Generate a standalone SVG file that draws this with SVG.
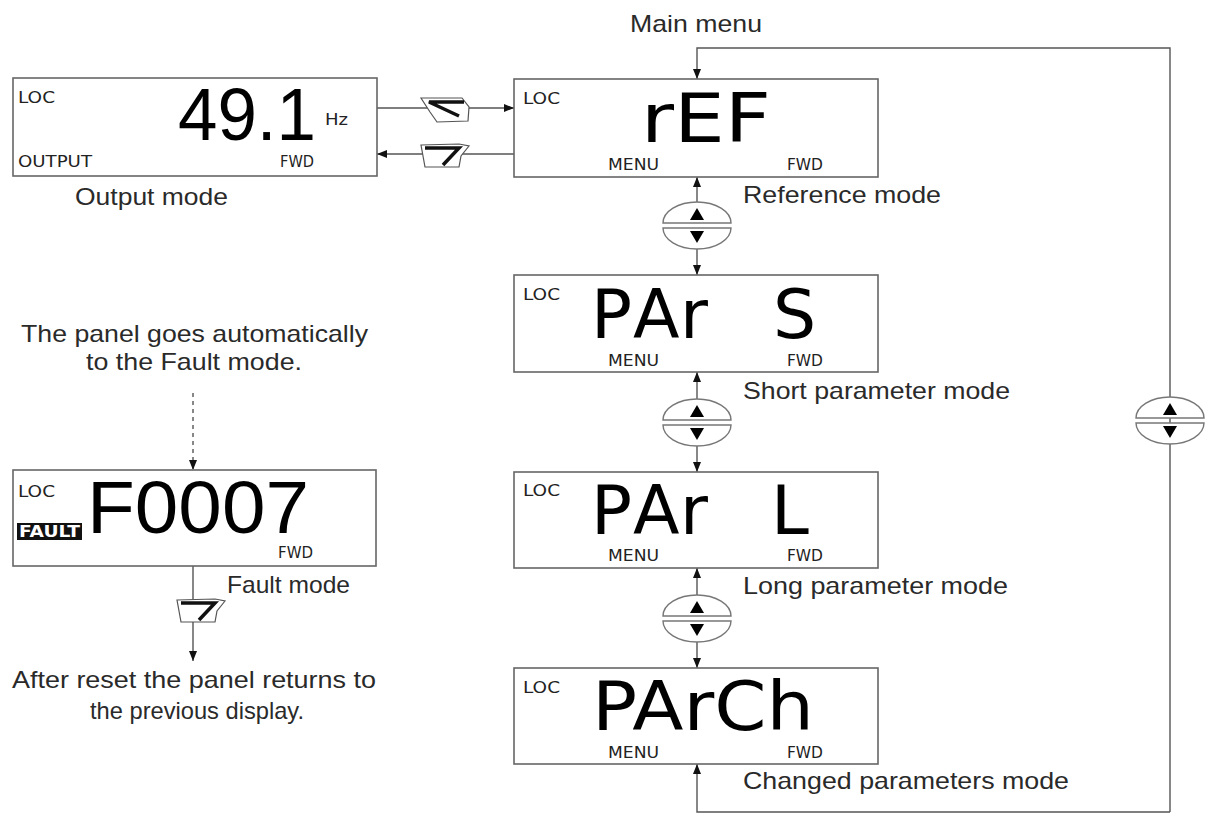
<svg xmlns="http://www.w3.org/2000/svg" width="1213" height="815" viewBox="0 0 1213 815">
<style>
.box{fill:#fff;stroke:#666;stroke-width:1.6}
.ln{fill:none;stroke:#555;stroke-width:1.4}
.dash{fill:none;stroke:#555;stroke-width:1.4;stroke-dasharray:4 4}
.sm{font-family:"DejaVu Sans",sans-serif;font-size:16px;fill:#222}
.big{font-family:"DejaVu Sans",sans-serif;font-size:68px;fill:#000}
.dig{font-family:"Liberation Sans",Arial,sans-serif;font-size:74px;fill:#000}
.lbl{font-family:"Liberation Sans",Arial,sans-serif;font-size:24px;fill:#2a2a2a}
.btn{fill:#fff;stroke:#777;stroke-width:1.4}
.tri{fill:#000}
.key{fill:#fff;stroke:#555;stroke-width:1.2}
.kg{fill:none;stroke:#111;stroke-width:3.5;stroke-linejoin:miter}
</style>
<defs>
<marker id="ah" markerUnits="userSpaceOnUse" markerWidth="12" markerHeight="10" refX="10" refY="4" orient="auto">
<path d="M0,0 L10,4 L0,8 Z" fill="#111"/>
</marker>
<g id="updown">
<path class="btn" d="M-34,-2 A34,21 0 0 1 34,-2 Z"/>
<path class="btn" d="M-34,3 A34,21 0 0 0 34,3 Z"/>
<path class="tri" d="M0,-17 L7,-5 L-7,-5 Z"/>
<path class="tri" d="M0,18 L7,6 L-7,6 Z"/>
</g>
<g id="key7">
<path class="key" d="M2,2 L40,1 L50,3 L42,13 L40,24 L6,24 L4,13 Z"/>
<path class="kg" d="M6,5 L40,5 L24,22"/>
</g>
<g id="keyL">
<path class="key" d="M2,1 L43,1 L50,10 L49,24 L18,25 L11,15 Z"/>
<path class="kg" d="M45,5 L10,5 L40,19"/>
</g>
</defs>

<g id="connectors">
<path class="ln" d="M1170,812 L1170,48 L697,48 L697,79" marker-end="url(#ah)"/>
<path class="ln" d="M1170,812 L697,812 L697,764" marker-end="url(#ah)"/>
<path class="ln" d="M697,203 L697,177" marker-end="url(#ah)"/>
<path class="ln" d="M697,247 L697,275" marker-end="url(#ah)"/>
<path class="ln" d="M697,400 L697,372" marker-end="url(#ah)"/>
<path class="ln" d="M697,444 L697,472" marker-end="url(#ah)"/>
<path class="ln" d="M697,596 L697,568" marker-end="url(#ah)"/>
<path class="ln" d="M697,640 L697,668" marker-end="url(#ah)"/>
<path class="ln" d="M377,108 L514,108" marker-end="url(#ah)"/>
<path class="ln" d="M514,154 L377,154" marker-end="url(#ah)"/>
<path class="dash" d="M193,393 L193,470" marker-end="url(#ah)"/>
<path class="ln" d="M193,566 L193,661" marker-end="url(#ah)"/>
</g>

<g id="buttons">
<use href="#updown" x="697" y="225"/>
<use href="#updown" x="697" y="422"/>
<use href="#updown" x="697" y="618"/>
<use href="#updown" x="1170" y="420"/>
</g>

<g id="keys">
<use href="#keyL" x="419" y="97"/>
<use href="#key7" x="419" y="143"/>
<use href="#key7" x="175" y="598"/>
</g>

<g id="output">
<rect class="box" x="13" y="78" width="364" height="98"/>
<text class="sm" x="18" y="103" textLength="37" lengthAdjust="spacingAndGlyphs">LOC</text>
<text class="dig" x="178" y="140" textLength="138" lengthAdjust="spacingAndGlyphs">49.1</text>
<text class="sm" x="325" y="125" textLength="23" lengthAdjust="spacingAndGlyphs">Hz</text>
<text class="sm" x="18" y="167" textLength="74" lengthAdjust="spacingAndGlyphs">OUTPUT</text>
<text class="sm" x="280" y="167" textLength="34" lengthAdjust="spacingAndGlyphs">FWD</text>
<text class="lbl" x="75" y="205" textLength="153" lengthAdjust="spacingAndGlyphs">Output mode</text>
</g>

<g id="ref">
<text class="lbl" x="630" y="32" textLength="132" lengthAdjust="spacingAndGlyphs">Main menu</text>
<rect class="box" x="514" y="79" width="364" height="98"/>
<text class="sm" x="523" y="104" textLength="37" lengthAdjust="spacingAndGlyphs">LOC</text>
<text class="big" x="641" y="142" textLength="130" lengthAdjust="spacingAndGlyphs">rEF</text>
<text class="sm" x="608" y="170" textLength="51" lengthAdjust="spacingAndGlyphs">MENU</text>
<text class="sm" x="787" y="170" textLength="36" lengthAdjust="spacingAndGlyphs">FWD</text>
<text class="lbl" x="743" y="203" textLength="198" lengthAdjust="spacingAndGlyphs">Reference mode</text>
</g>

<g id="pars">
<rect class="box" x="514" y="275" width="364" height="97"/>
<text class="sm" x="523" y="300" textLength="37" lengthAdjust="spacingAndGlyphs">LOC</text>
<text class="big" x="591 633 680 730 773" y="338">PAr S</text>
<text class="sm" x="608" y="366" textLength="51" lengthAdjust="spacingAndGlyphs">MENU</text>
<text class="sm" x="787" y="366" textLength="36" lengthAdjust="spacingAndGlyphs">FWD</text>
<text class="lbl" x="743" y="399" textLength="267" lengthAdjust="spacingAndGlyphs">Short parameter mode</text>
</g>

<g id="parl">
<rect class="box" x="514" y="472" width="364" height="96"/>
<text class="sm" x="523" y="496" textLength="37" lengthAdjust="spacingAndGlyphs">LOC</text>
<text class="big" x="591 633 680 730 771" y="534">PAr L</text>
<text class="sm" x="608" y="561" textLength="51" lengthAdjust="spacingAndGlyphs">MENU</text>
<text class="sm" x="787" y="561" textLength="36" lengthAdjust="spacingAndGlyphs">FWD</text>
<text class="lbl" x="743" y="594" textLength="265" lengthAdjust="spacingAndGlyphs">Long parameter mode</text>
</g>

<g id="parch">
<rect class="box" x="514" y="668" width="364" height="96"/>
<text class="sm" x="523" y="693" textLength="37" lengthAdjust="spacingAndGlyphs">LOC</text>
<text class="big" x="592" y="730" textLength="222" lengthAdjust="spacingAndGlyphs">PArCh</text>
<text class="sm" x="608" y="758" textLength="51" lengthAdjust="spacingAndGlyphs">MENU</text>
<text class="sm" x="787" y="758" textLength="36" lengthAdjust="spacingAndGlyphs">FWD</text>
<text class="lbl" x="743" y="789" textLength="326" lengthAdjust="spacingAndGlyphs">Changed parameters mode</text>
</g>

<g id="fault">
<text class="lbl" x="21" y="342" textLength="347" lengthAdjust="spacingAndGlyphs">The panel goes automatically</text>
<text class="lbl" x="86" y="370" textLength="216" lengthAdjust="spacingAndGlyphs">to the Fault mode.</text>
<rect class="box" x="13" y="470" width="363" height="96"/>
<text class="sm" x="18" y="497" textLength="37" lengthAdjust="spacingAndGlyphs">LOC</text>
<rect x="17" y="523" width="65" height="17" fill="#111"/>
<text x="19" y="537" textLength="61" lengthAdjust="spacingAndGlyphs" style="font-family:'DejaVu Sans',sans-serif;font-size:15px;font-weight:bold;fill:#fff">FAULT</text>
<text class="dig" x="87" y="533" textLength="222" lengthAdjust="spacingAndGlyphs">F0007</text>
<text class="sm" x="278" y="558" textLength="35" lengthAdjust="spacingAndGlyphs">FWD</text>
<text class="lbl" x="227" y="593" textLength="123" lengthAdjust="spacingAndGlyphs">Fault mode</text>
<text class="lbl" x="12" y="688" textLength="364" lengthAdjust="spacingAndGlyphs">After reset the panel returns to</text>
<text class="lbl" x="90" y="719" textLength="214" lengthAdjust="spacingAndGlyphs">the previous display.</text>
</g>
</svg>
